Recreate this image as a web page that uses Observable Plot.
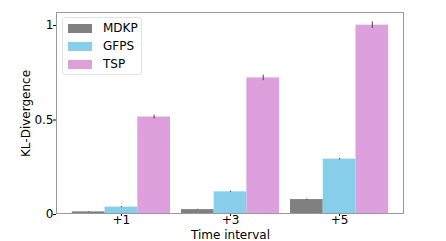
<!DOCTYPE html>
<html>
<head>
<meta charset="utf-8">
<script src="https://cdn.jsdelivr.net/npm/d3@7"></script>
<script src="https://cdn.jsdelivr.net/npm/@observablehq/plot@0.6"></script>
<style>
  html, body { margin: 0; padding: 0; background: #fff; }
  #wrap { position: relative; width: 446px; height: 241px; font-family: "DejaVu Sans", sans-serif; }
  #legend { position: absolute; left: 62px; top: 17px; width: 80px; height: 58px; box-sizing: border-box;
            border: 1px solid #e3e3e3; border-radius: 3px; background: rgba(255,255,255,0.8); font-size: 12px; color: #000; }
  .item { position: absolute; left: 5px; height: 14px; display: flex; align-items: center; }
  .sw { width: 24px; height: 9px; margin-right: 11px; }
</style>
</head>
<body>
<div id="wrap"></div>
<script>
const intervals = ["+1", "+3", "+5"];
const methods = ["MDKP", "GFPS", "TSP"];
const colors = ["#808080", "#87CEEB", "#DDA0DD"];
const mdkp = [0.014, 0.026, 0.079];
const gfps = [0.039, 0.120, 0.293];
const tsp = [0.516, 0.723, 1.002];
const mdkpErr = [0.002, 0.002, 0.003];
const gfpsErr = [0.003, 0.003, 0.004];
const tspErr = [0.010, 0.015, 0.017];
const yTicks = [0, 0.5, 1];
const yTickLabels = ["0", "0.5", "1"];

const barW = 0.3;
const series = [mdkp, gfps, tsp];
const errs = [mdkpErr, gfpsErr, tspErr];
const data = [];
intervals.forEach((iv, i) => methods.forEach((m, j) => {
  const c = i + (j - 1) * barW;
  data.push({interval: iv, method: m, value: series[j][i], err: errs[j][i], c, x1: c - barW / 2, x2: c + barW / 2});
}));
const xTicks = intervals.map((_, i) => i);

const W = 446, H = 241, ML = 56, MR = 42, MT = 12, MB = 27;

const plot = Plot.plot({
  width: W, height: H,
  marginLeft: ML, marginRight: MR, marginTop: MT, marginBottom: MB,
  style: {fontFamily: "DejaVu Sans, sans-serif", fontSize: "12px", color: "#000", background: "#fff"},
  x: {domain: [-0.595, 2.595], ticks: xTicks, tickFormat: (d) => intervals[d], label: "Time interval",
      labelAnchor: "center", labelOffset: 24, tickSize: 2, tickPadding: -1},
  y: {domain: [0, 1.069], ticks: yTicks, tickFormat: (d) => yTickLabels[yTicks.indexOf(d)],
      label: "KL-Divergence", labelAnchor: "center", labelOffset: 35, tickSize: 3, tickPadding: 0},
  color: {domain: methods, range: colors},
  marks: [
    Plot.rectY(data, {x1: "x1", x2: "x2", y: "value", fill: "method"}),
    Plot.ruleX(data, {x: "c", y1: d => d.value - d.err, y2: d => d.value + d.err, stroke: "#444", strokeWidth: 1})
  ]
});

// strip arrows from axis labels
d3.select(plot).selectAll("text, tspan").each(function () {
  if (this.children && this.children.length) return;
  const t = this.textContent;
  if (/[↑→]/.test(t)) this.textContent = t.replace(/\s*[↑→]\s*/g, "").trim();
});

// outer frame (axes spines)
d3.select(plot).append("rect")
  .attr("x", ML + 0.5).attr("y", MT + 0.5)
  .attr("width", W - ML - MR - 1).attr("height", H - MT - MB - 1)
  .attr("fill", "none").attr("stroke", "#999").attr("stroke-width", 1);

const wrap = document.getElementById("wrap");
wrap.appendChild(plot);

const legend = document.createElement("div");
legend.id = "legend";
methods.forEach((m, i) => {
  const it = document.createElement("div");
  it.className = "item";
  it.style.top = (3 + i * 18) + "px";
  const sw = document.createElement("div");
  sw.className = "sw";
  sw.style.background = colors[i];
  const t = document.createElement("span");
  t.textContent = m;
  it.appendChild(sw); it.appendChild(t);
  legend.appendChild(it);
});
wrap.appendChild(legend);
</script>
</body>
</html>
